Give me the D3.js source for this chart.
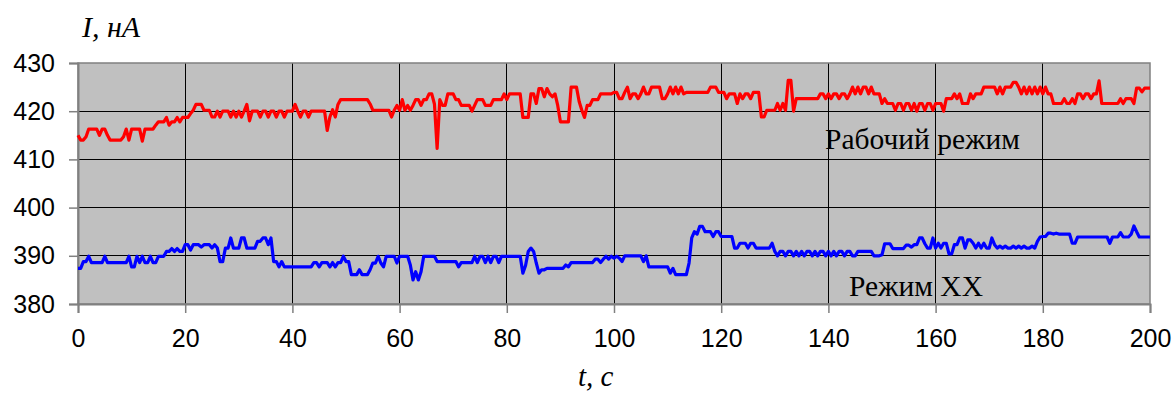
<!DOCTYPE html>
<html><head><meta charset="utf-8">
<script src="https://cdn.jsdelivr.net/npm/d3@7"></script>
<style>html,body{margin:0;padding:0;background:#fff;}svg{display:block;}</style>
</head><body>
<script>
// Sampling step of the recorded signal (s)
const sampleStep = 0.5;
const xTicks = [0, 20, 40, 60, 80, 100, 120, 140, 160, 180, 200];
const yTicks = [380, 390, 400, 410, 420, 430];
const yTitle = "I, нА";
const xTitle = "t, с";
const redLabel = "Рабочий режим";
const blueLabel = "Режим ХХ";

// Рабочий режим (red), one value per 0.5 s, t = 0 … 200
const workMode = [
 415,414,414,414.7,416.3,416.3,416.3,416.3,415,416.3,416.3,415,414,414,414,414,414,414.7,416.3,414,
 416.3,416.3,416.3,416.3,413.8,416.3,416.3,416.3,416.3,417.1,417.8,417.8,417.8,418.7,417.1,417.8,417.8,418.7,417.8,418.7,
 418.7,418.7,419.5,420.2,421.4,421.4,421.4,420.2,420.2,420.2,418.8,418.8,420,418.8,420,420,420,418.8,420,418.8,
 420,418.8,420,421.4,418,420,420,420,418.8,420,420,418.8,420,420,418.8,420,420,418.8,420,420,
 420,421.4,420,418.8,420,420,418.8,420,420,420,420,420,420,416,418.8,420.3,418.8,421.4,422.4,422.4,
 422.4,422.4,422.4,422.4,422.4,422.4,422.4,422.4,422.4,421.5,420.2,420.2,420.2,420.2,420.2,420.2,420.2,418.8,420.2,421.2,
 420.2,422.4,420.2,421.2,420.2,421.2,422.4,422.4,421.2,422.4,422.4,423.6,423.6,421.5,412.3,422.4,421.2,421.2,423.6,423.6,
 423.6,422.4,422.4,421.2,421.2,421.2,421.2,420,421.2,422.4,422.4,422.4,421.2,421.2,421.2,422.4,422.4,422.4,422.4,423.6,
 422.4,423.6,423.6,423.6,423.6,423.6,418.7,418.7,418.7,423.6,423.6,421.6,424.7,424.7,423,424.7,423.6,423,423.6,421.2,
 417.8,417.8,417.8,417.8,425,425,425,422,420.2,418.7,421.2,421.2,422.4,422.4,422.4,423.6,423.6,423.6,423.6,423.6,
 423.9,423.9,422.6,422.6,423.9,425,422.6,423.6,423.6,422.6,423.6,425,423.6,423.6,425,425,425,425,422.6,422.6,
 423.6,425,423.6,425,423.6,425,423.6,423.9,423.9,423.9,423.9,423.9,423.9,423.9,423.9,423.9,425,425,425,423.9,
 423.9,423.9,422.6,423.6,423.6,423.6,421.6,423.6,422.6,423.6,423.6,422.6,423.9,423.9,423.9,418.8,418.8,420.2,420.2,420.2,
 420.2,421.6,420.2,421.6,420.2,426.4,426.4,420,422.6,422.6,422.6,422.6,422.6,422.6,422.6,422.6,422.6,423.6,423.6,422.6,
 423.6,422.6,423.6,423.6,422.6,423.6,423.6,422.6,423.6,425,423.6,425,423.6,425,425,423.6,425,423.6,423.6,423.6,
 421.6,422.6,421.6,421.6,421.6,420.2,421.6,421.6,420.2,421.6,421.6,420.2,421.6,420,421.6,421.6,420.2,421.6,421.6,420.2,
 421.6,421.6,421.6,420,422.6,422.6,422.6,423.6,422.6,423.6,421.6,421.6,421.6,423.6,422.6,423.6,423.6,423.6,425,425,
 425,425,425,423.6,425,423.6,425,425,425,426,426,425,423.6,425,423.6,425,423.6,425,423.6,425,
 423.6,425,423.6,423.6,421.6,421.6,421.6,421.6,422.6,421.6,421.6,422.6,421.6,423.6,423.6,422.6,423.6,423.6,422.6,423.6,
 423.6,426.3,421.6,421.6,421.6,421.6,421.6,421.6,421.6,422.6,421.6,422.6,422.6,422.6,421.6,424.8,424.8,424,424.8,424.8,
 424.8
];

// Режим ХХ (blue), one value per 0.5 s, t = 0 … 200
const idleMode = [
 387.4,387.4,388.8,388.8,389.9,388.6,388.6,388.6,388.6,388.6,389.9,388.6,388.6,388.6,388.6,388.6,388.6,388.6,388.6,389.9,
 387.7,387.7,389.9,388.6,389.9,388.6,388.6,389.9,388.6,388.6,389.9,389.9,389.9,390.9,390.9,391.5,390.9,391.5,390.9,390.9,
 392.3,392.3,391.2,392.3,392.3,392.3,391.8,392.3,392.3,392.3,391.6,392.3,391.6,388.8,388.8,391.6,391.6,393.7,391.6,391.6,
 391.6,393.7,393.7,391.6,391.6,391.6,391.6,393,393,393.7,393.7,392.3,393.7,388.8,388.8,387.7,388.8,387.7,387.7,387.7,
 387.7,387.7,387.7,387.7,387.7,387.7,387.7,387.7,388.6,388.6,387.7,388.6,388.6,388.6,387.7,388.6,387.7,388.6,388.6,389.9,
 388.8,388.8,386.1,386.1,386.1,387.1,386.1,386.1,386.1,387.1,388.5,388.5,389.9,388.5,387.7,389.9,389.9,389.9,389.9,388.5,
 389.9,389.9,389.9,389.9,388.1,385,386.7,385,386.7,389.9,389.9,389.9,389.9,389.9,388.8,388.8,388.8,388.8,388.8,388.8,
 388.8,388.8,387.7,388.6,388.6,388.6,388.6,388.6,389.9,388.6,389.9,389.9,388.6,389.9,388.6,389.9,389.9,388.6,389.9,389.9,
 389.9,389.9,389.9,389.9,389.9,389.9,386.4,388,390.9,391.6,390.9,388.5,386.4,387.1,387.1,387.4,387.4,387.4,387.4,387.4,
 387.4,387.4,388.1,387.7,388.6,388.6,388.6,388.6,388.6,388.6,388.6,388.6,388.6,389.3,389.3,388.6,389.3,389.9,389.3,389.9,
 389.5,389.9,389.5,388.8,390,390,390,390,390,390,390,388.8,390,387.7,387.7,387.7,387.7,387.7,387.7,387.7,
 387.7,386.4,387.4,386.1,386.1,386.1,386.1,386.1,388.5,393.7,395,394.5,396.1,396.1,395,395,395,394,395,395,
 394,394,394,394,394,391.6,391.6,392.6,392.6,392.6,391.6,392.6,392.6,391.6,391.6,391.6,391.6,391.6,391.6,392.6,
 390.9,390,390.9,390.9,390,390.9,390.9,390,390.9,390,390.9,390,390.9,390.9,390,390.9,390,390.9,390.9,390,
 390.9,390,390.9,390,390.9,390.9,390,390.9,390.9,390,390,390.9,390.9,390.9,390.9,390.9,390.9,390,390,390,
 390.2,392.5,392.5,392.5,391.5,391.5,391.5,391.5,391.5,392.2,392.2,391.8,392.3,392.3,393.7,393.7,392.5,391.6,391.6,393.7,
 391.6,392.6,391.6,392.6,392.6,390.4,390.4,392.3,392.3,393.7,393.7,391.6,393.3,393.3,392.6,391.6,392.6,391.6,392.6,391.6,
 391.6,393.7,392.3,391.6,392,391.6,392,391.6,391.6,392,391.6,392,391.6,392,391.6,391.6,392,391.6,393,393.9,
 394,394,394.7,394.7,394.5,394.7,394.5,394.5,394.5,394.5,394.5,392.6,392.6,393.9,393.9,393.9,393.9,393.9,393.9,393.9,
 393.9,393.9,393.9,393.9,393.9,392.6,393.9,393.9,393.9,394.8,393.9,393.9,393.9,394.5,396.2,395,393.9,393.9,393.9,393.9,
 393.9
];

const W = 1175, H = 394;
const m = {left: 78, top: 63, right: 25, bottom: 90};
const iw = W - m.left - m.right, ih = H - m.top - m.bottom;

const svg = d3.select("body").append("svg").attr("width", W).attr("height", H);

const x = d3.scaleLinear().domain([0, 200]).range([m.left, m.left + iw]);
const y = d3.scaleLinear().domain([380, 430]).range([m.top + ih, m.top]);

svg.append("rect").attr("x", m.left).attr("y", m.top).attr("width", iw).attr("height", ih).attr("fill", "#c0c0c0");

// grid
svg.append("g").selectAll("line").data(yTicks.slice(1, -1)).join("line")
  .attr("x1", m.left).attr("x2", m.left + iw).attr("y1", d => y(d)).attr("y2", d => y(d))
  .attr("stroke", "#000").attr("stroke-width", 1).attr("shape-rendering", "crispEdges");
svg.append("g").selectAll("line").data(xTicks.slice(1, -1)).join("line")
  .attr("y1", m.top).attr("y2", m.top + ih).attr("x1", d => x(d)).attr("x2", d => x(d))
  .attr("stroke", "#000").attr("stroke-width", 1).attr("shape-rendering", "crispEdges");

// border
svg.append("rect").attr("x", m.left).attr("y", m.top).attr("width", iw).attr("height", ih)
  .attr("fill", "none").attr("stroke", "#808080").attr("stroke-width", 1.5);

// axes
const yAxis = d3.axisLeft(y).tickValues(yTicks).tickSize(9).tickPadding(14);
const gy = svg.append("g").attr("transform", `translate(${m.left},0)`).call(yAxis);
const xAxis = d3.axisBottom(x).tickValues(xTicks).tickSize(9).tickPadding(16);
const gx = svg.append("g").attr("transform", `translate(0,${m.top + ih})`).call(xAxis);
[gx, gy].forEach(g => {
  g.select(".domain").attr("stroke", "#808080").attr("stroke-width", 2);
  g.selectAll(".tick line").attr("stroke", "#808080").attr("stroke-width", 1.5);
  g.selectAll(".tick text").attr("fill", "#000").style("font-family", "'Liberation Sans', Arial, sans-serif").style("font-size", "25px");
});

// series
const times = workMode.map((_, i) => i * sampleStep);
const line = d3.line().x((d, i) => x(times[i])).y(d => y(d));
svg.append("path").datum(workMode).attr("d", line).attr("fill", "none").attr("stroke", "#ff0000").attr("stroke-width", 3.2).attr("stroke-linejoin", "round");
svg.append("path").datum(idleMode).attr("d", line).attr("fill", "none").attr("stroke", "#0000ff").attr("stroke-width", 3.2).attr("stroke-linejoin", "round");

// labels
const serif = "'Liberation Serif', 'Times New Roman', serif";
svg.append("text").attr("x", 82).attr("y", 37).text(yTitle)
  .style("font-family", serif).style("font-style", "italic").style("font-size", "30px");
svg.append("text").attr("x", 578).attr("y", 386).text(xTitle)
  .style("font-family", serif).style("font-style", "italic").style("font-size", "29px");
svg.append("text").attr("x", 825).attr("y", 149).text(redLabel)
  .style("font-family", serif).style("font-size", "29.5px");
svg.append("text").attr("x", 849).attr("y", 296).text(blueLabel)
  .style("font-family", serif).style("font-size", "29.5px");
</script>
</body></html>
